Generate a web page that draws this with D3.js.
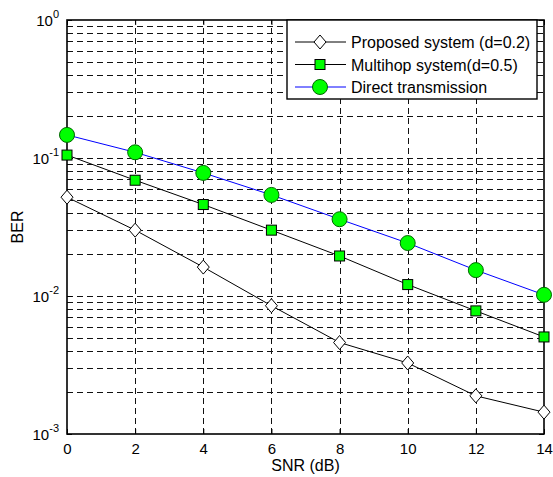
<!DOCTYPE html>
<html>
<head>
<meta charset="utf-8">
<script src="https://cdn.jsdelivr.net/npm/d3@7"></script>
<style>
  body { margin: 0; background: #fff; }
  text { font-family: "Liberation Sans", Arial, Helvetica, sans-serif; fill: #000; }
</style>
</head>
<body>
<script>
// data
var snr = [0, 2, 4, 6, 8, 10, 12, 14];
var proposed = [0.052, 0.030, 0.0162, 0.0085, 0.0046, 0.00327, 0.00189, 0.00144];
var multihop = [0.105, 0.069, 0.046, 0.030, 0.0195, 0.0121, 0.0078, 0.00505];
var direct = [0.147, 0.110, 0.078, 0.054, 0.036, 0.0242, 0.0154, 0.0102];
var xTicks = [0, 2, 4, 6, 8, 10, 12, 14];
var yDecades = [0, -1, -2, -3];
var seriesNames = ["Proposed system (d=0.2)", "Multihop system(d=0.5)", "Direct transmission"];

var width = 553, height = 477;
var m = {left: 67, top: 20, right: 9, bottom: 43};

const svg = d3.select("body").append("svg").attr("width", width).attr("height", height);

const x = d3.scaleLinear().domain([0, 14]).range([m.left, width - m.right]);
const y = d3.scaleLog().domain([1e-3, 1]).range([height - m.bottom, m.top]);

const g = svg.append("g");

// grid: every log minor position plus decades
var yGrid = [];
for (var e = -3; e < 0; e++) {
  for (var k = 1; k < 10; k++) {
    if (!(e == -3 && k == 1)) yGrid.push(k * Math.pow(10, e));
  }
}
g.selectAll(".hgrid").data(yGrid).enter().append("line")
  .attr("x1", x(0)).attr("x2", x(14))
  .attr("y1", d => Math.round(y(d)) + 0.5).attr("y2", d => Math.round(y(d)) + 0.5)
  .attr("stroke", "#111").attr("stroke-width", 1).attr("stroke-dasharray", "6,4");
g.selectAll(".vgrid").data(xTicks.slice(1, -1)).enter().append("line")
  .attr("x1", d => Math.round(x(d)) + 0.5).attr("x2", d => Math.round(x(d)) + 0.5)
  .attr("y1", y(1e-3)).attr("y2", y(1))
  .attr("stroke", "#111").attr("stroke-width", 1).attr("stroke-dasharray", "6,4");

// axes with inward ticks
const xAxis = d3.axisBottom(x).tickValues(xTicks).tickSize(-5).tickPadding(9).tickFormat(d3.format("d"));
const xTop = d3.axisTop(x).tickValues(xTicks).tickSize(-5).tickFormat("");
const yAxis = d3.axisLeft(y).tickValues(yDecades.map(d => Math.pow(10, d))).tickSize(-5).tickFormat("");
const yRight = d3.axisRight(y).tickValues(yDecades.map(d => Math.pow(10, d))).tickSize(-5).tickFormat("");

function styleAxis(sel) {
  sel.select(".domain").remove();
  sel.selectAll("line").attr("stroke", "#000");
  sel.selectAll("text").style("font-size", "15px").attr("fill", "#000");
}
g.append("g").attr("transform", "translate(0," + y(1e-3) + ")").call(xAxis).call(styleAxis);
g.append("g").attr("transform", "translate(0," + y(1) + ")").call(xTop).call(styleAxis);
g.append("g").attr("transform", "translate(" + x(0) + ",0)").call(yAxis).call(styleAxis);
g.append("g").attr("transform", "translate(" + x(14) + ",0)").call(yRight).call(styleAxis);

g.append("rect").attr("x", x(0)).attr("y", y(1)).attr("width", x(14) - x(0)).attr("height", y(1e-3) - y(1))
  .attr("fill", "none").attr("stroke", "#000").attr("stroke-width", 1.6);

// y tick labels 10^n
yDecades.forEach(function (e) {
  var t = g.append("text").attr("x", x(0) - 8).attr("y", y(Math.pow(10, e)) + 6)
    .attr("text-anchor", "end").style("font-size", "15px");
  t.append("tspan").text("10");
  t.append("tspan").attr("dy", -8).style("font-size", "11px").text(e);
});

// axis labels
svg.append("text").attr("x", (x(0) + x(14)) / 2).attr("y", height - 6)
  .attr("text-anchor", "middle").style("font-size", "16px").text("SNR (dB)");
svg.append("text").attr("transform", "translate(23," + (y(1e-3) + y(1)) / 2 + ") rotate(-90)")
  .attr("text-anchor", "middle").style("font-size", "16px").text("BER");

// series
const line = d3.line().x((d, i) => x(snr[i])).y(d => y(d));
g.append("path").datum(proposed).attr("d", line).attr("fill", "none").attr("stroke", "#000").attr("stroke-width", 1);
g.append("path").datum(multihop).attr("d", line).attr("fill", "none").attr("stroke", "#000").attr("stroke-width", 1);
g.append("path").datum(direct).attr("d", line).attr("fill", "none").attr("stroke", "#0000ff").attr("stroke-width", 1);

function diamond(sel) {
  sel.append("path").attr("d", "M0,-7L6,0L0,7L-6,0Z")
    .attr("fill", "#fff").attr("stroke", "#000").attr("stroke-width", 1);
}
function square(sel) {
  sel.append("rect").attr("x", -5).attr("y", -5).attr("width", 10).attr("height", 10)
    .attr("fill", "#00ff00").attr("stroke", "#000").attr("stroke-width", 1);
}
function circle(sel) {
  sel.append("circle").attr("r", 7.5)
    .attr("fill", "#00ff00").attr("stroke", "#006600").attr("stroke-width", 1);
}

g.selectAll(".pm").data(proposed).enter().append("g")
  .attr("transform", (d, i) => "translate(" + x(snr[i]) + "," + y(d) + ")").call(diamond);
g.selectAll(".mm").data(multihop).enter().append("g")
  .attr("transform", (d, i) => "translate(" + x(snr[i]) + "," + y(d) + ")").call(square);
g.selectAll(".dm").data(direct).enter().append("g")
  .attr("transform", (d, i) => "translate(" + x(snr[i]) + "," + y(d) + ")").call(circle);

// legend
const leg = svg.append("g");
leg.append("rect").attr("x", 287).attr("y", 20).attr("width", 250).attr("height", 79)
  .attr("fill", "#fff").attr("stroke", "#000").attr("stroke-width", 1.4);
var legColors = ["#000", "#000", "#0000ff"];
var legMarks = [diamond, square, circle];
seriesNames.forEach(function (name, i) {
  var ry = 42 + i * 22.5;
  leg.append("line").attr("x1", 295).attr("x2", 346).attr("y1", ry).attr("y2", ry)
    .attr("stroke", legColors[i]).attr("stroke-width", 1);
  leg.append("g").attr("transform", "translate(320," + ry + ")").call(legMarks[i]);
  leg.append("text").attr("x", 351).attr("y", ry + 6).style("font-size", "16px").text(name);
});
</script>
</body>
</html>
